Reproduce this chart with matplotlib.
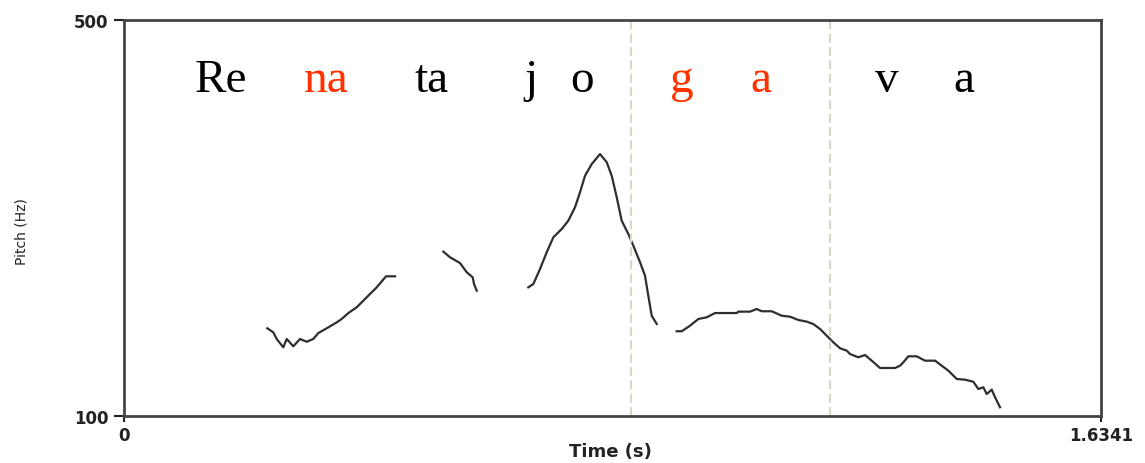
import matplotlib
matplotlib.use("Agg")
import matplotlib.pyplot as plt

# pitch contour (time in s, pitch in Hz)
seg1_t = [0.2397, 0.2497, 0.2554, 0.2664, 0.2721, 0.2832, 0.2944, 0.3056, 0.3166,
          0.3250, 0.3390, 0.3558, 0.3641, 0.3752, 0.3892, 0.4059, 0.4227, 0.4382, 0.4533]
seg1_f = [188.6, 184.5, 177.8, 169.4, 177.8, 170.4, 177.8, 175.0, 177.8,
          183.8, 188.6, 194.6, 198.0, 204.0, 209.8, 219.9, 230.0, 241.1, 241.1]

seg2_t = [0.5341, 0.5453, 0.5620, 0.5732, 0.5832, 0.5854, 0.5899]
seg2_f = [266.0, 260.3, 254.5, 245.2, 240.1, 233.3, 226.6]

seg3_t = [0.6762, 0.6846, 0.6958, 0.7070, 0.7181, 0.7321, 0.7431, 0.7543, 0.7627,
          0.7711, 0.7823, 0.7961, 0.8074, 0.8157, 0.8241, 0.8324, 0.8435, 0.8519,
          0.8631, 0.8714, 0.8769, 0.8826, 0.8910]
seg3_f = [230.0, 233.3, 248.5, 265.4, 280.5, 288.9, 297.3, 310.8, 326.0,
          342.7, 354.5, 364.6, 356.3, 342.7, 320.9, 297.3, 283.8, 272.0,
          255.3, 241.7, 221.5, 201.3, 192.9]

seg4_t = [0.9244, 0.9328, 0.9467, 0.9606, 0.9746, 0.9885, 1.0248, 1.0275, 1.0470,
          1.0583, 1.0666, 1.0833, 1.1001, 1.1140, 1.1278, 1.1419, 1.1529, 1.1641,
          1.1753, 1.1864, 1.1976, 1.2088, 1.2143, 1.2282, 1.2394, 1.2506, 1.2644,
          1.2895, 1.2979, 1.3034, 1.3118, 1.3258, 1.3397, 1.3565, 1.3677, 1.3787,
          1.3928, 1.4067, 1.4205, 1.4289, 1.4373, 1.4429, 1.4513, 1.4568, 1.4652]
seg4_f = [185.6, 185.6, 191.2, 198.0, 199.7, 204.0, 204.0, 205.4, 205.4,
          208.1, 205.8, 205.8, 201.3, 200.3, 197.0, 195.3, 192.9, 187.9,
          181.1, 174.4, 168.4, 166.0, 162.6, 159.3, 161.6, 155.9, 148.5,
          148.5, 150.8, 154.2, 160.3, 160.3, 155.9, 155.9, 150.8, 145.8,
          137.4, 136.7, 134.6, 127.3, 129.0, 122.2, 126.6, 118.9, 108.8]

segments = [(seg1_t, seg1_f), (seg2_t, seg2_f), (seg3_t, seg3_f), (seg4_t, seg4_f)]

boundaries = [0.8480, 1.1809]

syllables = ["Re", "na", "ta", "j", "o", "g", "a", "v", "a"]
syllable_t = [0.1623, 0.3379, 0.5152, 0.6808, 0.7661, 0.9333, 1.0654, 1.2762, 1.4050]
highlighted = [False, True, False, False, False, True, True, False, False]

t_max = 1.6341
f_min, f_max = 100, 500

fig = plt.figure(figsize=(11.45, 4.64), dpi=100)
ax = fig.add_axes([0.1083, 0.1013, 0.8533, 0.8534])

for t, f in segments:
    ax.plot(t, f, color='#2e2e2e', linewidth=1.6)

for b in boundaries:
    ax.axvline(b, color='#d8d8cc', linestyle=(0, (4, 2)), linewidth=1.6)

for s, t, hl in zip(syllables, syllable_t, highlighted):
    ax.text(t, 428, s, ha='center', va='baseline', fontsize=34,
            family='Liberation Serif', color='#ff3300' if hl else 'black')

ax.set_xlim(0, t_max)
ax.set_ylim(f_min, f_max)
ax.set_xticks([0, t_max])
ax.set_xticklabels(['0', '1.6341'])
ax.set_yticks([f_min, f_max])
ax.set_yticklabels(['100', '500'])
ax.tick_params(axis='y', length=7, width=1.5, pad=4, labelsize=12, colors='#222222')
ax.tick_params(axis='x', length=4, width=1.5, pad=3, labelsize=12, colors='#222222')
for lab in ax.get_xticklabels() + ax.get_yticklabels():
    lab.set_fontweight('bold')

for side in ['left', 'right', 'top', 'bottom']:
    ax.spines[side].set_color('#444444')
    ax.spines[side].set_linewidth(2)

fig.text(0.533, 0.026, 'Time (s)', ha='center', va='center',
         fontsize=13, fontweight='bold', color='#222222')
fig.text(0.019, 0.50, 'Pitch (Hz)', rotation=90, ha='center', va='center',
         fontsize=10, color='#222222')

fig.savefig('out.png', dpi=100)
